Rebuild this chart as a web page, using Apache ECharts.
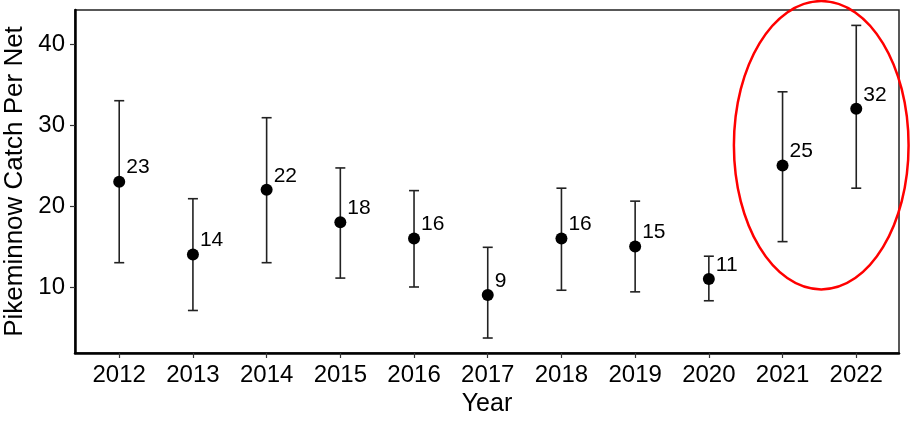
<!DOCTYPE html>
<html>
<head>
<meta charset="utf-8">
<script src="https://cdn.jsdelivr.net/npm/echarts@6/dist/echarts.min.js"></script>
<style>
html,body{margin:0;padding:0;background:#fff;}
#chart{width:911px;height:425px;}
</style>
</head>
<body>
<div id="chart"></div>
<script>
const years = [2012, 2013, 2014, 2015, 2016, 2017, 2018, 2019, 2020, 2021, 2022];
const means = [23, 14, 22, 18, 16, 9, 16, 15, 11, 25, 32];
const lower = [13.0, 7.1, 13.0, 11.1, 10.0, 3.7, 9.6, 9.4, 8.3, 15.6, 22.2];
const upper = [33.0, 20.9, 30.9, 24.7, 21.9, 14.9, 22.2, 20.6, 13.8, 34.1, 42.3];
const yTicks = [10, 20, 30, 40];
// highlight ellipse extent, in data coordinates
const ellipseX = [2020.34, 2022.71];
const ellipseY = [9.7, 45.3];

const FONT = 'Liberation Sans, Arial, sans-serif';
const chart = echarts.init(document.getElementById('chart'));

const points = years.map((y, i) => [y, means[i]]);
const bars = years.map((y, i) => [y, lower[i], upper[i]]);

chart.setOption({
  animation: false,
  grid: {left: 75, top: 10, right: 12, bottom: 72, outerBoundsMode: 'none', containLabel: false,
         show: true, borderColor: '#222', borderWidth: 1.5, backgroundColor: 'transparent'},
  xAxis: {
    type: 'value', min: 2011.4, max: 2022.58,
    name: 'Year', nameLocation: 'middle', nameGap: 36,
    nameTextStyle: {fontFamily: FONT, fontSize: 25, color: '#000'},
    axisLine: {show: true, lineStyle: {color: '#000', width: 2.5}},
    axisTick: {show: true, length: 5, lineStyle: {color: '#333', width: 1.2}, customValues: years},
    axisLabel: {fontFamily: FONT, fontSize: 24, color: '#000', margin: 10, customValues: years, formatter: v => String(v)},
    splitLine: {show: false}
  },
  yAxis: {
    type: 'value', min: 1.85, max: 44.2,
    name: 'Pikeminnow Catch Per Net', nameLocation: 'middle', nameGap: 46,
    nameTextStyle: {fontFamily: FONT, fontSize: 26, color: '#000'},
    axisLine: {show: true, lineStyle: {color: '#000', width: 2.5}},
    axisTick: {show: true, length: 5, lineStyle: {color: '#333', width: 1.2}, customValues: yTicks},
    axisLabel: {fontFamily: FONT, fontSize: 24, color: '#000', margin: 10, customValues: yTicks},
    splitLine: {show: false}
  },
  series: [
    {
      type: 'custom',
      data: bars,
      renderItem: function (params, api) {
        const x = api.value(0);
        const lo = api.coord([x, api.value(1)]);
        const hi = api.coord([x, api.value(2)]);
        const hw = 5;
        const st = {stroke: '#222', lineWidth: 1.6};
        return {
          type: 'group',
          children: [
            {type: 'line', shape: {x1: lo[0], y1: lo[1], x2: hi[0], y2: hi[1]}, style: st},
            {type: 'line', shape: {x1: lo[0] - hw, y1: lo[1], x2: lo[0] + hw, y2: lo[1]}, style: st},
            {type: 'line', shape: {x1: hi[0] - hw, y1: hi[1], x2: hi[0] + hw, y2: hi[1]}, style: st}
          ]
        };
      },
      z: 2
    },
    {
      type: 'scatter',
      data: points,
      symbol: 'circle',
      symbolSize: 12,
      itemStyle: {color: '#000', opacity: 1},
      label: {
        show: true, position: 'right', distance: 1, offset: [0, -14],
        formatter: p => String(p.value[1]),
        fontFamily: FONT, fontSize: 21, color: '#000', opacity: 1
      },
      z: 3
    }
  ]
});

function drawEllipse() {
  const p1 = chart.convertToPixel({gridIndex: 0}, [ellipseX[0], ellipseY[1]]);
  const p2 = chart.convertToPixel({gridIndex: 0}, [ellipseX[1], ellipseY[0]]);
  const cx = (p1[0] + p2[0]) / 2, cy = (p1[1] + p2[1]) / 2;
  const rx = Math.abs(p2[0] - p1[0]) / 2, ry = Math.abs(p2[1] - p1[1]) / 2;
  chart.setOption({
    graphic: [{
      type: 'ellipse',
      shape: {cx: cx, cy: cy, rx: rx, ry: ry},
      style: {fill: 'none', stroke: '#ff0000', lineWidth: 2.5},
      z: 10
    }]
  });
}
drawEllipse();
</script>
</body>
</html>
